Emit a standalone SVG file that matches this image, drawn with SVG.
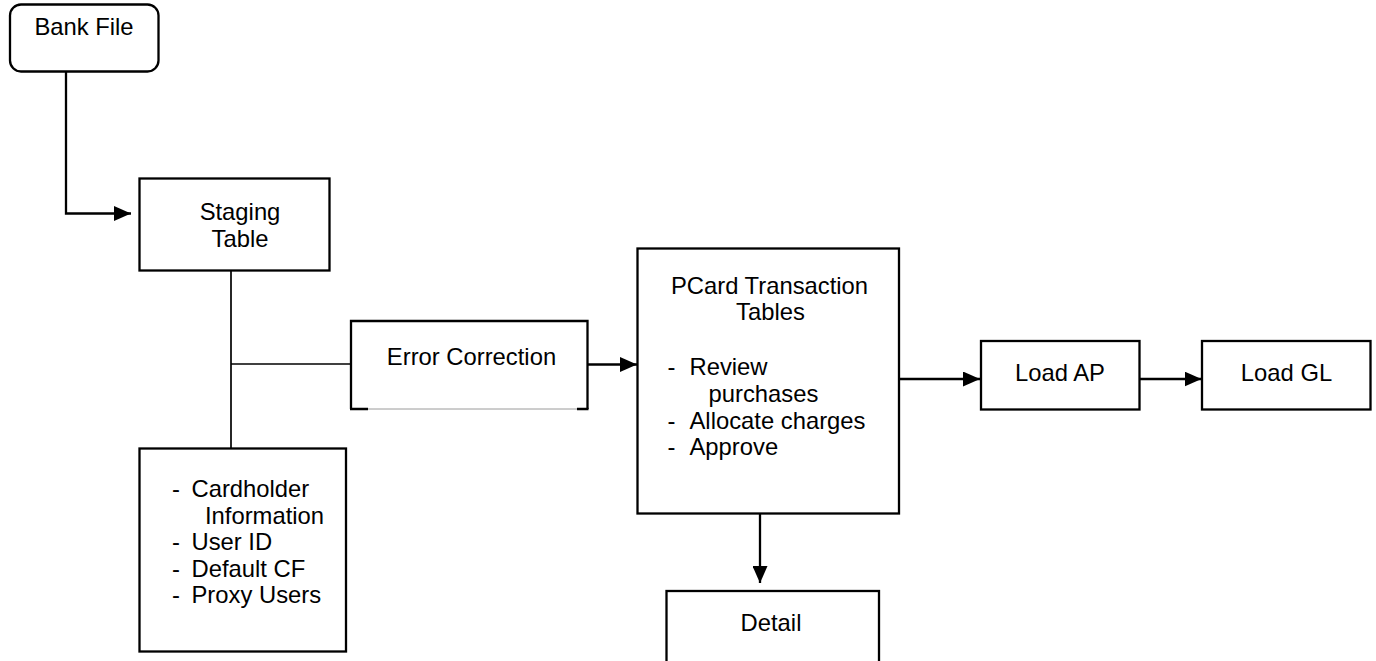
<svg xmlns="http://www.w3.org/2000/svg" width="1376" height="661" viewBox="0 0 1376 661">
  <style>
    .box { fill: #ffffff; stroke: #000000; stroke-width: 2.3; }
    .line { fill: none; stroke: #000000; stroke-width: 2.3; }
    .thin { fill: none; stroke: #000000; stroke-width: 1.7; }
    .lbl { font-family: "Liberation Sans", Arial, sans-serif; font-size: 23.8px; fill: #000000; }
    .mid { text-anchor: middle; }
  </style>
  <defs>
    <marker id="arrow" markerWidth="17" markerHeight="15" refX="17" refY="7.5" orient="auto" markerUnits="userSpaceOnUse">
      <path d="M0,0 L17,7.5 L0,15 Z" fill="#000000"/>
    </marker>
  </defs>

  <g id="connectors">
    <!-- Bank File down and into Staging Table -->
    <path class="line" d="M66,72 V213.5 H131" marker-end="url(#arrow)"/>
    <!-- Staging Table trunk to cardholder details -->
    <path class="thin" d="M231,271 V448"/>
    <!-- branch into Error Correction -->
    <path class="thin" d="M231,364 H351"/>
    <!-- Error Correction to PCard tables -->
    <path class="line" d="M588,364.5 H637" marker-end="url(#arrow)"/>
    <!-- PCard tables to Load AP -->
    <path class="line" d="M900,379 H980" marker-end="url(#arrow)"/>
    <!-- Load AP to Load GL -->
    <path class="line" d="M1140,379 H1201.5" marker-end="url(#arrow)"/>
    <!-- PCard tables down to Detail -->
    <path class="line" d="M760,514 V583" marker-end="url(#arrow)"/>
  </g>

  <g id="bank-file">
    <rect class="box" x="10" y="4.5" width="148.5" height="67" rx="11" ry="11"/>
    <text class="lbl mid" x="84" y="35">Bank File</text>
  </g>

  <g id="staging-table">
    <rect class="box" x="139.5" y="178.5" width="190" height="92"/>
    <text class="lbl mid" x="240" y="220">Staging</text>
    <text class="lbl mid" x="240" y="247">Table</text>
  </g>

  <g id="error-correction">
    <path d="M351,321 H587.5 V409 H351 Z" fill="#ffffff"/>
    <path class="line" d="M351,409 V321 H587.5 V409"/>
    <path d="M367,409 H578" stroke="#9a9a9a" stroke-width="1"/>
    <path class="line" d="M350,409 H368 M577,409 H588.5"/>
    <text class="lbl mid" x="471.5" y="365">Error Correction</text>
  </g>

  <g id="cardholder-details">
    <rect class="box" x="139.5" y="448.5" width="206.5" height="203"/>
    <text class="lbl" x="172" y="497">-</text>
    <text class="lbl" x="191.5" y="497">Cardholder</text>
    <text class="lbl" x="205" y="523.5">Information</text>
    <text class="lbl" x="172" y="550">-</text>
    <text class="lbl" x="191.5" y="550">User ID</text>
    <text class="lbl" x="172" y="576.5">-</text>
    <text class="lbl" x="191.5" y="576.5">Default CF</text>
    <text class="lbl" x="172" y="603">-</text>
    <text class="lbl" x="191.5" y="603">Proxy Users</text>
  </g>

  <g id="pcard-tables">
    <rect class="box" x="637.5" y="248.5" width="261.5" height="265"/>
    <text class="lbl mid" x="769.5" y="293.5">PCard Transaction</text>
    <text class="lbl mid" x="770.5" y="320">Tables</text>
    <text class="lbl" x="667.5" y="375">-</text>
    <text class="lbl" x="689.5" y="375">Review</text>
    <text class="lbl" x="708.5" y="401.5">purchases</text>
    <text class="lbl" x="667.5" y="428.5">-</text>
    <text class="lbl" x="689.5" y="428.5">Allocate charges</text>
    <text class="lbl" x="667.5" y="455">-</text>
    <text class="lbl" x="689.5" y="455">Approve</text>
  </g>

  <g id="load-ap">
    <rect class="box" x="981" y="341" width="158.5" height="68.5"/>
    <text class="lbl mid" x="1060" y="381">Load AP</text>
  </g>

  <g id="load-gl">
    <rect class="box" x="1202" y="341" width="168.5" height="68.5"/>
    <text class="lbl mid" x="1286.5" y="381">Load GL</text>
  </g>

  <g id="detail">
    <rect class="box" x="666.5" y="591" width="212.5" height="80"/>
    <text class="lbl mid" x="771" y="631">Detail</text>
  </g>
</svg>
